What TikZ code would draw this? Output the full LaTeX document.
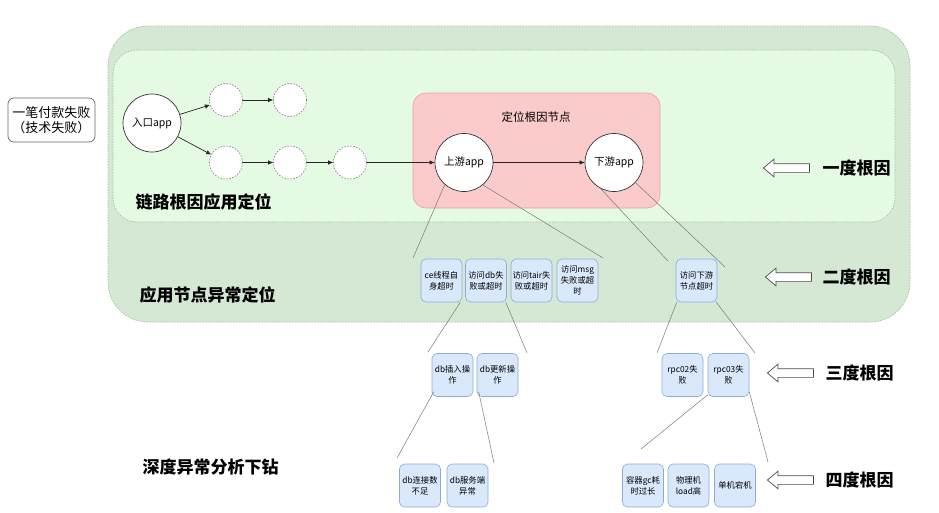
\documentclass[tikz,border=0pt]{standalone}
\usepackage{fontspec}
\setmainfont{Noto Sans CJK SC}
\usetikzlibrary{shapes.arrows,arrows.meta}
\definecolor{outerfill}{HTML}{D5E8D4}
\definecolor{innerfill}{HTML}{E4FAE2}
\definecolor{dashgreen}{HTML}{A6C2A4}
\definecolor{redfill}{HTML}{FACBCA}
\definecolor{redline}{HTML}{E3A3A1}
\definecolor{bluefill}{HTML}{DAE8FC}
\definecolor{blueline}{HTML}{8EAAD6}
\definecolor{linkgray}{HTML}{7A7A7A}
\tikzset{
  region/.style={draw=dashgreen, line width=0.7pt, dash pattern=on 1.6pt off 1.2pt},
  appnode/.style={circle, draw=black!80, line width=0.7pt, fill=white, minimum size=58pt, inner sep=0pt, font=\fontsize{10.5}{12}\selectfont},
  ghost/.style={circle, draw=black!55, line width=0.6pt, dash pattern=on 1.5pt off 1.5pt, fill=white, minimum size=33pt, inner sep=0pt},
  causebox/.style={rectangle, rounded corners=5pt, fill=bluefill, draw=blueline, line width=0.6pt, minimum width=41pt, minimum height=43pt, inner sep=0pt, align=center, font=\fontsize{8.3}{11}\selectfont},
  flow/.style={-{Latex[length=5pt,width=4.5pt]}, line width=0.7pt, draw=black!85},
  link/.style={draw=linkgray, line width=0.5pt},
  levelarrow/.style={single arrow, draw=black!70, fill=white, line width=0.7pt, shape border rotate=180, minimum height=46pt, single arrow head extend=4.5pt, single arrow tip angle=80, inner sep=0pt},
  leveltext/.style={anchor=west, font=\fontsize{17}{20}\selectfont\bfseries},
  sectiontext/.style={anchor=west, font=\fontsize{17}{20}\selectfont\bfseries}
}
\begin{document}
\begin{tikzpicture}[x=1pt,y=-1pt]
\useasboundingbox[fill=white] (0,0) rectangle (939,512);
% regions
\path[region, fill=outerfill, rounded corners=40pt] (108,26) rectangle (910,322);
\path[region, fill=innerfill, rounded corners=24pt] (113,50) rectangle (895,222);
\path[draw=redline, fill=redfill, line width=0.6pt, rounded corners=13pt] (413,93) rectangle (660,208);
\node (redtitle) at (536,117) {\fontsize{11.5}{13}\selectfont 定位根因节点};
% left box
\node[draw=black!60, line width=0.7pt, rounded corners=6pt, minimum width=87pt, minimum height=44pt, inner sep=0pt, align=center, font=\fontsize{13}{15}\selectfont] (pay) at (51.5,120) {一笔付款失败\\（技术失败）};
% chain
\node[appnode] (entry) at (152,123) {入口app};
\node[ghost] (t1) at (226,100) {};
\node[ghost] (t2) at (290,100) {};
\node[ghost] (b1) at (226,162.5) {};
\node[ghost] (b2) at (290,162.5) {};
\node[ghost] (b3) at (350,162.5) {};
\node[appnode] (up) at (464,162.5) {上游app};
\node[appnode] (down) at (614,162.5) {下游app};
\draw[flow] (entry) -- (t1);
\draw[flow] (entry) -- (b1);
\draw[flow] (t1) -- (t2);
\draw[flow] (b1) -- (b2);
\draw[flow] (b2) -- (b3);
\draw[flow] (b3) -- (up);
\draw[flow] (up) -- (down);
% section labels
\node[sectiontext] (s1) at (132,202) {链路根因应用定位};
\node[sectiontext] (s2) at (136,295) {应用节点异常定位};
\node[sectiontext] (s3) at (139,467) {深度异常分析下钻};
% level 2
\node[causebox] (ce) at (441.5,280.5) {ce线程自\\身超时};
\node[causebox] (db) at (486,280.5) {访问db失\\败或超时};
\node[causebox] (tair) at (531.5,280.5) {访问tair失\\败或超时};
\node[causebox] (msg) at (577.5,280.5) {访问msg\\失败或超\\时};
\node[causebox] (ds) at (696.5,280.5) {访问下游\\节点超时};
% level 3
\node[causebox] (ins) at (452.5,375) {db插入操\\作};
\node[causebox] (upd) at (497.5,375) {db更新操\\作};
\node[causebox] (rpca) at (682.5,375) {rpc02失\\败};
\node[causebox] (rpcb) at (728.5,375) {rpc03失\\败};
% level 4
\node[causebox] (conn) at (420,485.5) {db连接数\\不足};
\node[causebox] (srv) at (467.5,485.5) {db服务端\\异常};
\node[causebox] (gc) at (643,485.5) {容器gc耗\\时过长};
\node[causebox] (load) at (688.5,485.5) {物理机\\load高};
\node[causebox] (crash) at (735,485.5) {单机宕机};
% free ends
\coordinate (e1) at (413,258);
\coordinate (e2) at (603,258);
\coordinate (e3) at (668,261);
\coordinate (e4) at (725,267);
\coordinate (e5) at (428,352);
\coordinate (e6) at (527,353);
\coordinate (e7) at (657,353);
\coordinate (e8) at (755,353);
\coordinate (e9) at (397,458);
\coordinate (e10) at (494,463);
\coordinate (e11) at (641,449);
\coordinate (e12) at (768,462);
% links
\draw[link] (up.229) -- (e1);
\draw[link] (up.310) -- (e2);
\draw[link] (down.243) -- (e3);
\draw[link] (down.317) -- (e4);
\draw[link] ([xshift=-2pt]ce.south east) -- (e5);
\draw[link] ([xshift=-1pt]db.south east) -- (e6);
\draw[link] ([xshift=1pt]ds.south west) -- (e7);
\draw[link] ([xshift=-1pt]ds.south east) -- (e8);
\draw[link] ([xshift=2pt,yshift=5pt]ins.south west) -- (e9);
\draw[link] ([xshift=2pt,yshift=5pt]upd.south west) -- (e10);
\draw[link] ([xshift=0pt,yshift=2pt]rpcb.south west) -- (e11);
\draw[link] ([xshift=0pt,yshift=5pt]rpcb.south east) -- (e12);
% level markers
\node[levelarrow] (a1) at (789,168) {\rule{0pt}{8pt}};
\node[levelarrow] (a2) at (791,277) {\rule{0pt}{8pt}};
\node[levelarrow] (a3) at (793,373) {\rule{0pt}{8pt}};
\node[levelarrow] (a4) at (793,480) {\rule{0pt}{8pt}};
\node[leveltext] (l1) at (819,168) {一度根因};
\node[leveltext] (l2) at (819,277) {二度根因};
\node[leveltext] (l3) at (822,373) {三度根因};
\node[leveltext] (l4) at (822,480) {四度根因};
\end{tikzpicture}
\end{document}
